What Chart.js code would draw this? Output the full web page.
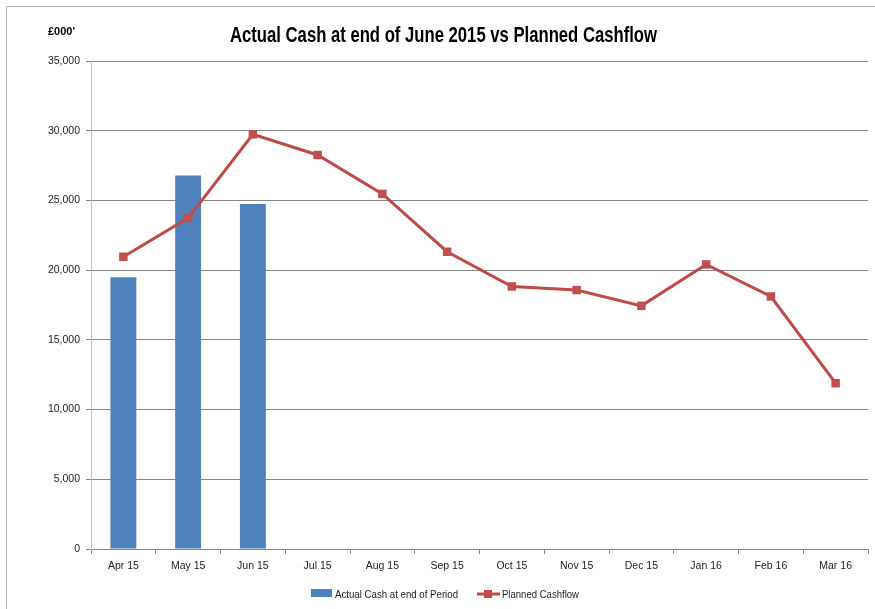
<!DOCTYPE html>
<html>
<head>
<meta charset="utf-8">
<script src="https://cdn.jsdelivr.net/npm/chart.js@4/dist/chart.umd.min.js"></script>
<style>
html,body{margin:0;padding:0;background:#fff;}
#wrap{position:relative;width:875px;height:609px;}
</style>
</head>
<body>
<div id="wrap"><canvas id="c" width="875" height="609"></canvas></div>
<script>
const categories = ['Apr 15','May 15','Jun 15','Jul 15','Aug 15','Sep 15','Oct 15','Nov 15','Dec 15','Jan 16','Feb 16','Mar 16'];
const actualCash = [19490, 26780, 24750, null, null, null, null, null, null, null, null, null];
const plannedCashflow = [20960, 23730, 29740, 28260, 25470, 21320, 18830, 18570, 17440, 20410, 18110, 11890];
const yTicks = [0, 5000, 10000, 15000, 20000, 25000, 30000, 35000];
const titleText = 'Actual Cash at end of June 2015 vs Planned Cashflow';
const unitText = "£000'";
const seriesNames = ['Actual Cash at end of Period', 'Planned Cashflow'];

const FONT = '"Liberation Sans", Arial, sans-serif';
const BAR_COLOR = '#4f81bd';
const LINE_COLOR = '#be4b48';

function drawFitted(ctx, text, x, y, font, width, align) {
  ctx.save();
  ctx.font = font;
  const w = ctx.measureText(text).width;
  const s = width / w;
  let left = x;
  if (align === 'center') left = x - width / 2;
  ctx.translate(left, y);
  ctx.scale(s, 1);
  ctx.textAlign = 'left';
  ctx.fillText(text, 0, 0);
  ctx.restore();
}

const decor = {
  id: 'decor',
  beforeDraw(chart) {
    const ctx = chart.ctx;
    ctx.save();
    ctx.strokeStyle = '#b4b4b4';
    ctx.lineWidth = 1;
    ctx.beginPath();
    ctx.moveTo(6.5, 609);
    ctx.lineTo(6.5, 6.5);
    ctx.lineTo(875, 6.5);
    ctx.stroke();
    ctx.restore();
  },
  afterDraw(chart) {
    const ctx = chart.ctx;
    ctx.save();
    ctx.fillStyle = '#000';
    ctx.textBaseline = 'alphabetic';
    drawFitted(ctx, titleText, 443.5, 41.5, 'bold 22px ' + FONT, 427, 'center');
    drawFitted(ctx, unitText, 48, 35, 'bold 10px ' + FONT, 27, 'left');
    // legend
    ctx.fillStyle = BAR_COLOR;
    ctx.fillRect(311, 589, 21, 8);
    ctx.fillStyle = '#222';
    drawFitted(ctx, seriesNames[0], 335, 597.5, '10.5px ' + FONT, 123, 'left');
    ctx.strokeStyle = LINE_COLOR;
    ctx.lineWidth = 3;
    ctx.beginPath();
    ctx.moveTo(477, 594);
    ctx.lineTo(500, 594);
    ctx.stroke();
    ctx.fillStyle = '#c0504d';
    ctx.fillRect(484, 590, 8, 8);
    ctx.fillStyle = '#222';
    drawFitted(ctx, seriesNames[1], 502, 597.5, '10.5px ' + FONT, 77, 'left');
    ctx.restore();
  }
};

new Chart(document.getElementById('c'), {
  data: {
    labels: categories,
    datasets: [
      {
        type: 'line',
        label: seriesNames[1],
        data: plannedCashflow,
        borderColor: LINE_COLOR,
        backgroundColor: '#c0504d',
        borderWidth: 3,
        pointStyle: 'rect',
        pointRadius: 6,
        pointHoverRadius: 6,
        pointBorderWidth: 0,
        tension: 0,
        order: 1
      },
      {
        type: 'bar',
        label: seriesNames[0],
        data: actualCash,
        backgroundColor: BAR_COLOR,
        borderWidth: 0,
        barPercentage: 0.4,
        categoryPercentage: 1.0,
        order: 2
      }
    ]
  },
  options: {
    responsive: false,
    animation: false,
    devicePixelRatio: 1,
    layout: { padding: { left: 0, right: 7, top: 61, bottom: 30 } },
    plugins: {
      legend: { display: false },
      title: { display: false },
      tooltip: { enabled: false }
    },
    scales: {
      x: {
        offset: true,
        grid: {
          offset: true,
          drawOnChartArea: false,
          drawTicks: true,
          tickLength: 5,
          color: '#868686'
        },
        border: { color: '#868686', width: 1 },
        ticks: {
          font: { family: FONT, size: 10.5 },
          color: '#222',
          padding: 6,
          maxRotation: 0,
          autoSkip: false
        },
        afterFit(scale) { scale.height = 30; }
      },
      y: {
        min: 0,
        max: 35000,
        afterBuildTicks(scale) { scale.ticks = yTicks.map(v => ({ value: v })); },
        grid: {
          color: '#868686',
          drawTicks: true,
          tickLength: 5
        },
        border: { color: '#bfbfbf', width: 1 },
        ticks: {
          font: { family: FONT, size: 10.5 },
          color: '#222',
          padding: 6,
          callback: v => v.toLocaleString('en-US')
        },
        afterFit(scale) { scale.width = 91; }
      }
    }
  },
  plugins: [decor]
});
</script>
</body>
</html>
